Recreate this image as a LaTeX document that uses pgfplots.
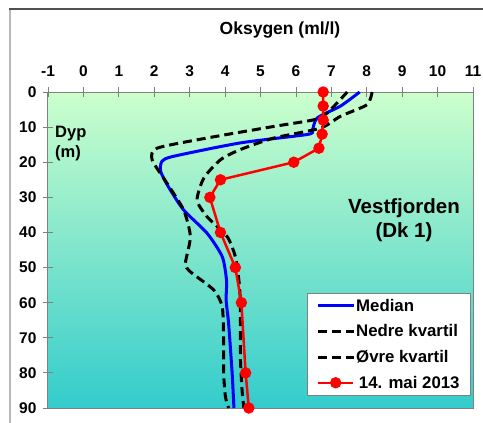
\documentclass[border=0pt]{standalone}
\usepackage{pgfplots}
\pgfplotsset{compat=1.18}
\usepackage{fontspec}
\setmainfont{Liberation Sans}

\definecolor{frametop}{RGB}{80,80,80}
\definecolor{frameleft}{RGB}{185,185,185}
\definecolor{bgtop}{RGB}{204,255,204}
\definecolor{bgbottom}{RGB}{51,204,204}
\definecolor{axisgray}{RGB}{128,128,128}

% Oxygen profiles: x = oxygen (ml/l), y = depth (m)
\pgfplotstableread{
ox depth
7.80 0
7.26 4
6.60 7.4
6.46 11
6.32 12.1
4.43 14.5
2.55 18.3
2.22 19.7
2.18 22.6
2.40 27
2.83 33.6
3.49 40.2
3.92 46.9
4.04 53.6
4.03 59.3
4.10 66
4.20 80.2
4.25 90
}\median

\pgfplotstableread{
ox depth
7.45 0
6.88 6
6.51 7.9
5.38 9.8
3.49 13.1
2.08 16
1.94 19.3
2.36 26
2.83 33.6
3.02 41.2
2.88 48.8
3.02 51.2
3.68 56.4
3.92 61.2
3.96 70.7
3.96 80.2
4.01 86.8
4.10 90
}\nedre

\pgfplotstableread{
ox depth
8.15 0
8.01 3.6
7.26 6.9
6.69 10.3
5.38 13.1
4.43 16.4
3.87 19.3
3.40 24.5
3.21 30.8
3.49 35.5
4.06 41.2
4.29 46.9
4.39 53.6
4.43 60
4.43 75
4.48 85
4.53 90
}\ovre

\pgfplotstableread{
ox depth
6.77 0
6.77 4
6.77 8
6.74 12
6.65 16
5.94 20
3.87 25
3.57 30
3.87 40
4.29 50
4.46 60
4.58 80
4.67 90
}\mai

\begin{document}
\begin{tikzpicture}[x=1pt,y=1pt]
\useasboundingbox (0,0) rectangle (483,423);
% outer chart frame
\draw[frameleft, line width=1.8pt] (10,414) -- (10,-5);
\draw[frametop, line width=1.5pt] (9.1,414) -- (490,414);

\begin{axis}[
  at={(48pt,15pt)}, anchor=south west,
  width=425pt, height=316pt, scale only axis,
  xmin=-1, xmax=11, ymin=0, ymax=90,
  y dir=reverse,
  xtick={-1,0,...,11},
  xticklabels={-1,0,1,2,3,4,5,6,7,8,9,10,11},
  ytick={0,10,...,90},
  yticklabels={0,10,20,30,40,50,60,70,80,90},
  xtick pos=right, xticklabel pos=right,
  ytick pos=left, yticklabel pos=left,
  tick align=center, major tick length=10pt,
  tick style={axisgray, line width=0.8pt},
  axis line style={axisgray, line width=1pt},
  ticklabel style={font=\bfseries\fontsize{15.5}{15.5}\selectfont, text=black},
  xticklabel style={yshift=7pt},
  yticklabel style={xshift=-3pt},
  axis background/.style={shade, top color=bgtop, bottom color=bgbottom},
  clip=false,
  legend cell align=left,
  legend image code/.code={\draw[mark repeat=2, mark phase=2, #1] plot coordinates {(0pt,0pt) (17.5pt,0pt) (35pt,0pt)};},
  legend style={at={(axis description cs:0.994,0.038)}, anchor=south east,
    draw=axisgray, fill=white, line width=0.8pt,
    font=\bfseries\fontsize{16.8}{16.8}\selectfont,
    inner xsep=9pt, inner ysep=4pt, row sep=8pt,
    nodes={inner xsep=1.5pt}},
]
\addplot[blue, line width=3pt, smooth, tension=0.4] table[x=ox, y=depth] {\median};
\addlegendentry{Median}
\addplot[black, line width=3pt, dash pattern=on 9pt off 5pt, smooth, tension=0.4] table[x=ox, y=depth] {\nedre};
\addlegendentry{Nedre kvartil}
\addplot[black, line width=3pt, dash pattern=on 9pt off 5pt, smooth, tension=0.4] table[x=ox, y=depth] {\ovre};
\addlegendentry{Øvre kvartil}
\addplot[red, line width=2.5pt, mark=*, mark size=4.4pt, mark options={solid}] table[x=ox, y=depth] {\mai};
\addlegendentry{\,14. mai 2013}
\end{axis}

\node[font=\bfseries\fontsize{17.5}{17.5}\selectfont] at (280,393) {Oksygen (ml/l)};
\node[font=\bfseries\fontsize{16.5}{20}\selectfont, anchor=north west, align=left, inner sep=0pt] at (55,297) {Dyp\\(m)};
\node[font=\bfseries\fontsize{20.5}{20.5}\selectfont, anchor=base, inner sep=0pt] at (404,209.7) {Vestfjorden};
\node[font=\bfseries\fontsize{20.5}{20.5}\selectfont, anchor=base, inner sep=0pt] at (404,185) {(Dk 1)};
\end{tikzpicture}
\end{document}
